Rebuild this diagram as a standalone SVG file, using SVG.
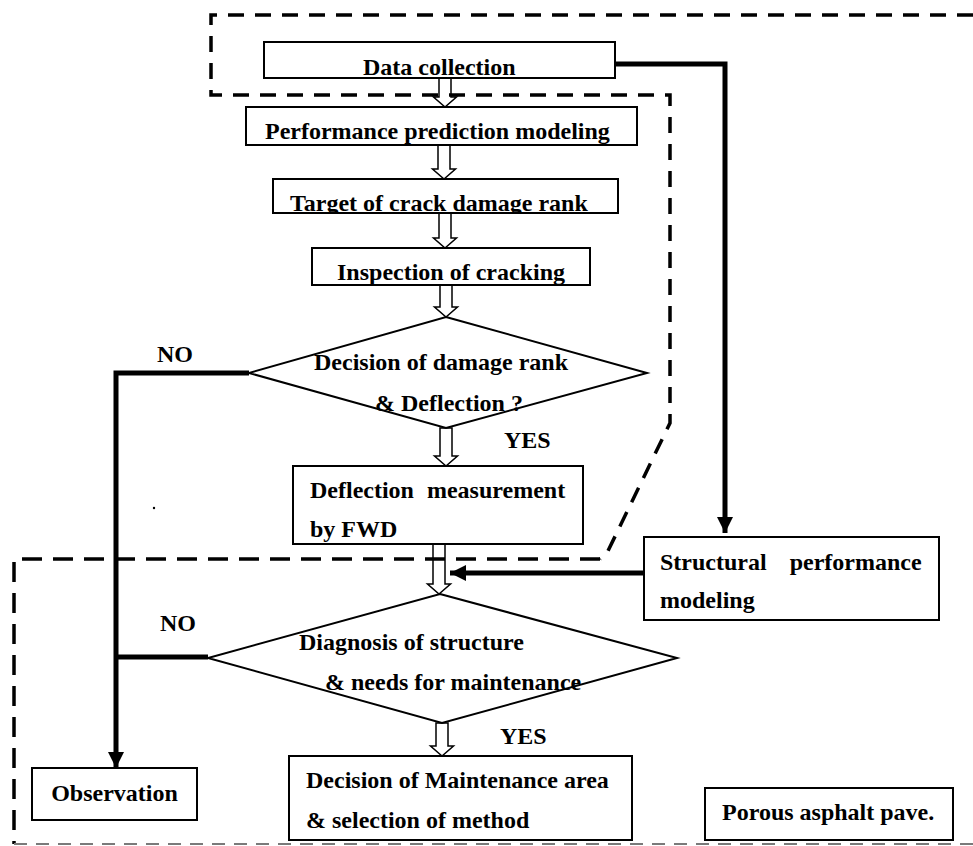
<svg xmlns="http://www.w3.org/2000/svg" width="973" height="846" viewBox="0 0 973 846">
<style>
  .box{fill:#fff;stroke:#000;stroke-width:2}
  .dia{fill:#fff;stroke:#000;stroke-width:2}
  .t{font-family:"Liberation Serif","Times New Roman",serif;font-weight:bold;font-size:24px;fill:#000}
  .harrow{fill:#fff;stroke:#000;stroke-width:1.5}
  .thick{fill:none;stroke:#000;stroke-width:5}
  .frame{fill:none;stroke:#000;stroke-width:3.5;stroke-dasharray:16 11}
  .frame2{fill:none;stroke:#000;stroke-width:3.5;stroke-dasharray:20 11}
  .gray{fill:none;stroke:#7a7a7a;stroke-width:2;stroke-dasharray:13 9}
</style>
<defs>
  <marker id="ah" viewBox="0 0 10 10" refX="10" refY="5" markerWidth="3.2" markerHeight="3.2" orient="auto" markerUnits="strokeWidth">
    <path d="M0,0 L10,5 L0,10 Z" fill="#000"/>
  </marker>
  <clipPath id="c1"><rect x="270" y="178" width="350" height="34"/></clipPath>
  <clipPath id="c2"><rect x="310" y="247" width="282" height="37"/></clipPath>
</defs>
<rect width="973" height="846" fill="#fff"/>

<g id="connectors">
  <path class="harrow" d="M439,78 L439,97 L433.5,97 L445,107 L456.5,97 L451,97 L451,78 Z"/>
  <path class="harrow" d="M438,145 L438,169 L432.5,169 L444,179 L455.5,169 L450,169 L450,145 Z"/>
  <path class="harrow" d="M439,213 L439,238 L433.5,238 L445,248 L456.5,238 L451,238 L451,213 Z"/>
  <path class="harrow" d="M440,285 L440,307 L434.5,307 L446,317 L457.5,307 L452,307 L452,285 Z"/>
  <path class="harrow" d="M440,428 L440,456 L434.5,456 L446,466 L457.5,456 L452,456 L452,428 Z"/>
  <path class="harrow" d="M433,544 L433,584 L427.5,584 L439,594 L450.5,584 L445,584 L445,544 Z"/>
  <path class="harrow" d="M436,723 L436,746 L430.5,746 L442,756 L453.5,746 L448,746 L448,723 Z"/>
  <path class="thick" d="M615,64 L725,64 L725,533" marker-end="url(#ah)"/>
  <path class="thick" d="M643,573 L450,573" marker-end="url(#ah)"/>
  <path class="thick" d="M249,373 L116,373 L116,768" marker-end="url(#ah)"/>
  <path class="thick" d="M208,657 L116,657"/>
</g>

<g id="frames">
  <path class="frame" d="M973,15 L211,15 L211,95 L670,95 L670,423 L607,553 L600,559"/>
  <path class="frame2" d="M600,559 L14,559 L14,844"/>
  <path class="gray" d="M14,844 L973,844"/>
</g>

<g id="n-data">
  <rect class="box" x="264" y="42" width="351" height="36"/>
  <text class="t" x="363" y="75">Data collection</text>
</g>
<g id="n-perf">
  <rect class="box" x="246" y="107" width="391" height="38"/>
  <text class="t" x="265" y="139">Performance prediction modeling</text>
</g>
<g id="n-target">
  <rect class="box" x="273" y="179" width="345" height="34"/>
  <text class="t" x="290" y="211" clip-path="url(#c1)">Target of crack damage rank</text>
</g>
<g id="n-inspect">
  <rect class="box" x="312" y="248" width="278" height="37"/>
  <text class="t" x="337" y="280" clip-path="url(#c2)">Inspection of cracking</text>
</g>
<g id="n-decision1">
  <path class="dia" d="M446,317 L647,373 L446,428 L249,373 Z"/>
  <text class="t" x="314" y="370">Decision of damage rank</text>
  <text class="t" x="375" y="411">&amp; Deflection ?</text>
</g>
<g id="labels">
  <text class="t" x="157" y="362">NO</text>
  <text class="t" x="504" y="448">YES</text>
  <text class="t" x="160" y="631">NO</text>
  <text class="t" x="500" y="744">YES</text>
  <circle cx="154" cy="508" r="1.2" fill="#000"/>
</g>
<g id="n-fwd">
  <rect class="box" x="293" y="466" width="290" height="78"/>
  <text class="t" x="310" y="498" word-spacing="7">Deflection measurement</text>
  <text class="t" x="310" y="537">by FWD</text>
</g>
<g id="n-struct">
  <rect class="box" x="644" y="537" width="295" height="83"/>
  <text class="t" x="660" y="570" word-spacing="17">Structural performance</text>
  <text class="t" x="660" y="608">modeling</text>
</g>
<g id="n-decision2">
  <path class="dia" d="M440,594 L677,658 L442,723 L208,658 Z"/>
  <text class="t" x="299" y="650">Diagnosis of structure</text>
  <text class="t" x="325" y="690">&amp; needs for maintenance</text>
</g>
<g id="n-observation">
  <rect class="box" x="32" y="768" width="165" height="52"/>
  <text class="t" x="114.5" y="801" text-anchor="middle">Observation</text>
</g>
<g id="n-maint">
  <rect class="box" x="289" y="756" width="343" height="84"/>
  <text class="t" x="306" y="788">Decision of Maintenance area</text>
  <text class="t" x="306" y="828">&amp; selection of method</text>
</g>
<g id="n-porous">
  <rect class="box" x="705" y="788" width="248" height="52"/>
  <text class="t" x="722" y="820">Porous asphalt pave.</text>
</g>
</svg>
